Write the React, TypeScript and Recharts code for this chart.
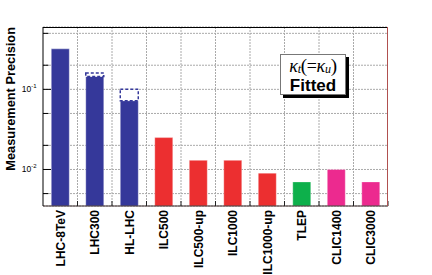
import React from "react";
import { BarChart, Bar, XAxis, YAxis, CartesianGrid, Cell } from "recharts";

// bars
const categories = ["LHC-8TeV", "LHC300", "HL-LHC", "ILC500", "ILC500-up", "ILC1000", "ILC1000-up", "TLEP", "CLIC1400", "CLIC3000"];
const precision = [0.32, 0.145, 0.072, 0.025, 0.013, 0.013, 0.009, 0.007, 0.01, 0.007];
// dashed (white) extension on top of some bars
const upperBound: (number | null)[] = [null, 0.16, 0.1, null, null, null, null, null, null, null];
const barColors = ["#35389a", "#35389a", "#35389a", "#ec2f30", "#ec2f30", "#ec2f30", "#ec2f30", "#0db04b", "#ec2a8f", "#ec2a8f"];

const yTicks = [0.004, 0.005, 0.006, 0.007, 0.008, 0.009, 0.01, 0.02, 0.03, 0.04, 0.05, 0.06, 0.07, 0.08, 0.09, 0.1, 0.2, 0.3, 0.4, 0.5];
const yMajor = [0.01, 0.1];
const yMajorLabels = ["-2", "-1"];

const W = 432;
const H = 275;
const LEFT = 43;
const TOP = 27;
const RIGHT = 388;
const BOTTOM = 206;
const FONT = "'Liberation Sans', Arial, Helvetica, sans-serif";
const SERIF = "'Liberation Serif', 'Times New Roman', serif";

const data = categories.map((name, i) => ({
    name,
    value: precision[i],
    range: upperBound[i] != null ? [precision[i], upperBound[i]] : null,
}));

const band = (RIGHT - LEFT) / categories.length;

const XTick = (props: any) => {
    const { x, payload } = props;
    return (
        <g>
            <line x1={x + band / 2} x2={x + band / 2} y1={BOTTOM} y2={BOTTOM - 5} stroke="#222" />
            <text
                x={x + 4.5}
                y={210}
                transform={`rotate(-90 ${x + 4.5} 210)`}
                textAnchor="end"
                fontFamily={FONT}
                fontWeight="bold"
                fontSize={12}
                fill="#000"
            >
                {payload.value}
            </text>
        </g>
    );
};

const YTick = (props: any) => {
    const { y, payload } = props;
    const idx = yMajor.indexOf(payload.value);
    const major = idx >= 0;
    return (
        <g>
            <line x1={LEFT} x2={LEFT + (major ? 8 : 5.5)} y1={y} y2={y} stroke="#000" />
            {major && (
                <text x={36.5} y={y + 2.5} textAnchor="end" fontFamily={FONT} fontSize={8.5} fill="#000">
                    10
                    <tspan dy={-3.5} fontSize={6}>{yMajorLabels[idx]}</tspan>
                </text>
            )}
        </g>
    );
};

const App = () => {
    return (
        <div style={{ position: "absolute", left: 0, top: 0, width: W, height: H, background: "#fff" }}>
            <BarChart
                width={W}
                height={H}
                data={data}
                margin={{ top: TOP, right: W - RIGHT, bottom: 0, left: 0 }}
                barCategoryGap="24%"
            >
                <CartesianGrid
                    stroke="#aaa"
                    strokeDasharray="2 1"
                    verticalCoordinatesGenerator={({ offset }: any) =>
                        categories.slice(1).map((_, i) => offset.left + ((i + 1) * offset.width) / categories.length)
                    }
                />
                <XAxis
                    dataKey="name"
                    height={H - BOTTOM}
                    interval={0}
                    tickLine={false}
                    tickSize={0}
                    axisLine={{ stroke: "#3a2a2a" }}
                    tick={XTick}
                />
                <XAxis xAxisId="over" dataKey="name" hide />
                <YAxis
                    type="number"
                    scale="log"
                    domain={[0.0035, 0.6]}
                    allowDataOverflow
                    ticks={yTicks}
                    width={LEFT}
                    tickLine={false}
                    axisLine={{ stroke: "#000" }}
                    tick={YTick}
                />
                <Bar dataKey="value" isAnimationActive={false} stroke="#ffffff" strokeOpacity={0.35}>
                    {data.map((d, i) => (
                        <Cell key={d.name} fill={barColors[i]} />
                    ))}
                </Bar>
                <Bar
                    dataKey="range"
                    xAxisId="over"
                    isAnimationActive={false}
                    fill="#fff"
                    stroke="#35389a"
                    strokeWidth={1.5}
                    strokeDasharray="3 2"
                />
            </BarChart>
            <svg width={W} height={H} style={{ position: "absolute", left: 0, top: 0, pointerEvents: "none" }}>
                <line x1={LEFT} x2={RIGHT} y1={TOP + 0.5} y2={TOP + 0.5} stroke="#000" />
                <line x1={RIGHT - 0.5} x2={RIGHT - 0.5} y1={TOP} y2={BOTTOM} stroke="#b0504f" />
                <text
                    x={14.5}
                    y={TOP}
                    transform={`rotate(-90 14.5 ${TOP})`}
                    textAnchor="end"
                    fontFamily={FONT}
                    fontWeight="bold"
                    fontSize={12.8}
                    fill="#000"
                >
                    Measurement Precision
                </text>
            </svg>
            <div
                style={{
                    position: "absolute",
                    left: 280,
                    top: 54,
                    width: 64,
                    height: 39,
                    border: "1px solid #777",
                    background: "#fff",
                    boxShadow: "3px 3px 0 #000",
                    textAlign: "center",
                }}
            >
                <div style={{ fontFamily: SERIF, fontSize: 18, height: 22, lineHeight: "22px", whiteSpace: "nowrap", letterSpacing: -0.3 }}>
                    <i>κ</i>
                    <i style={{ fontSize: 12, verticalAlign: -1 }}>t</i>
                    <span style={{ fontSize: 19 }}>(</span>=<i>κ</i>
                    <i style={{ fontSize: 12, verticalAlign: -1 }}>u</i>
                    <span style={{ fontSize: 19 }}>)</span>
                </div>
                <div style={{ fontFamily: FONT, fontWeight: "bold", fontSize: 17, height: 17, lineHeight: "17px" }}>Fitted</div>
            </div>
        </div>
    );
};

export default App;
